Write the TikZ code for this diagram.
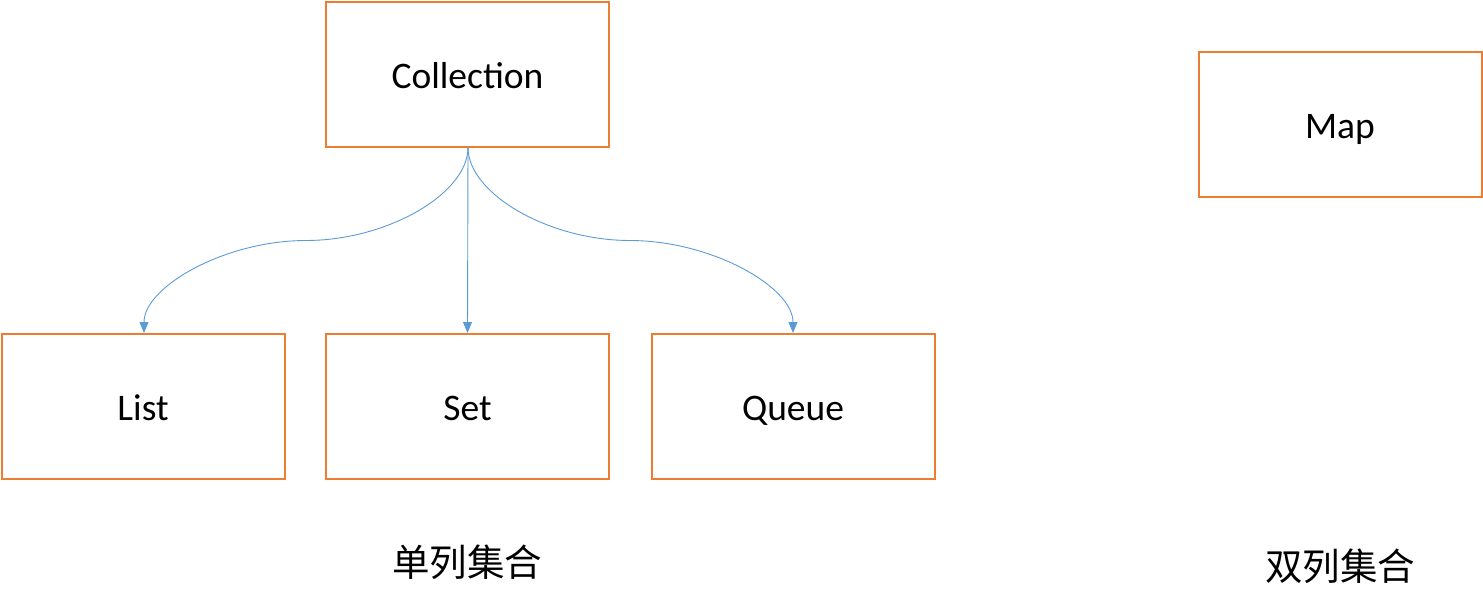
\documentclass[tikz,border=0pt]{standalone}
\usepackage{fontspec}
\setmainfont{Carlito}
\newfontfamily\cjk{Noto Sans CJK SC}
\usetikzlibrary{arrows.meta}
\definecolor{boxorange}{HTML}{ED7D31}
\definecolor{linkblue}{HTML}{5B9BD5}
\begin{document}
\begin{tikzpicture}[x=1pt,y=-1pt,
  box/.style={draw=boxorange,line width=2pt,minimum width=283pt,minimum height=145pt,inner sep=0pt,
    text height=30pt,text depth=2pt,font=\fontsize{37.5}{45}\selectfont},
  link/.style={draw=linkblue,line width=0.9pt,-{Triangle[length=11pt,width=9pt]}},
  lbl/.style={font=\cjk\fontsize{37.5}{45}\selectfont}]
\useasboundingbox (0,0) rectangle (1483,611);
\node[box] (col) at (467.5,74) {Collection};
\node[box] (map) at (1340,124.5) {Map};
\node[box] (list) at (143,406.5) {List};
\node[box] (set) at (467.5,406.5) {Set};
\node[box] (queue) at (793,406.5) {Queue};
\node[lbl] (single) at (467,562) {单列集合};
\node[lbl] (double) at (1340,566) {双列集合};
\coordinate (s) at ([xshift=0.5pt]col.south);
\coordinate (ml) at ([xshift=-162pt,yshift=-93pt]s);
\coordinate (mr) at ([xshift=162pt,yshift=-93pt]s);
\draw[link] (s) .. controls ++(0,46.25) and ++(81,0) .. (ml)
  .. controls ++(-81,0) and ++(0,-46.25) .. ([xshift=1pt]list.north);
\draw[link] (s) -- (set.north);
\draw[link] (s) .. controls ++(0,46.25) and ++(-81,0) .. (mr)
  .. controls ++(81,0) and ++(0,-46.25) .. (queue.north);
\end{tikzpicture}
\end{document}
